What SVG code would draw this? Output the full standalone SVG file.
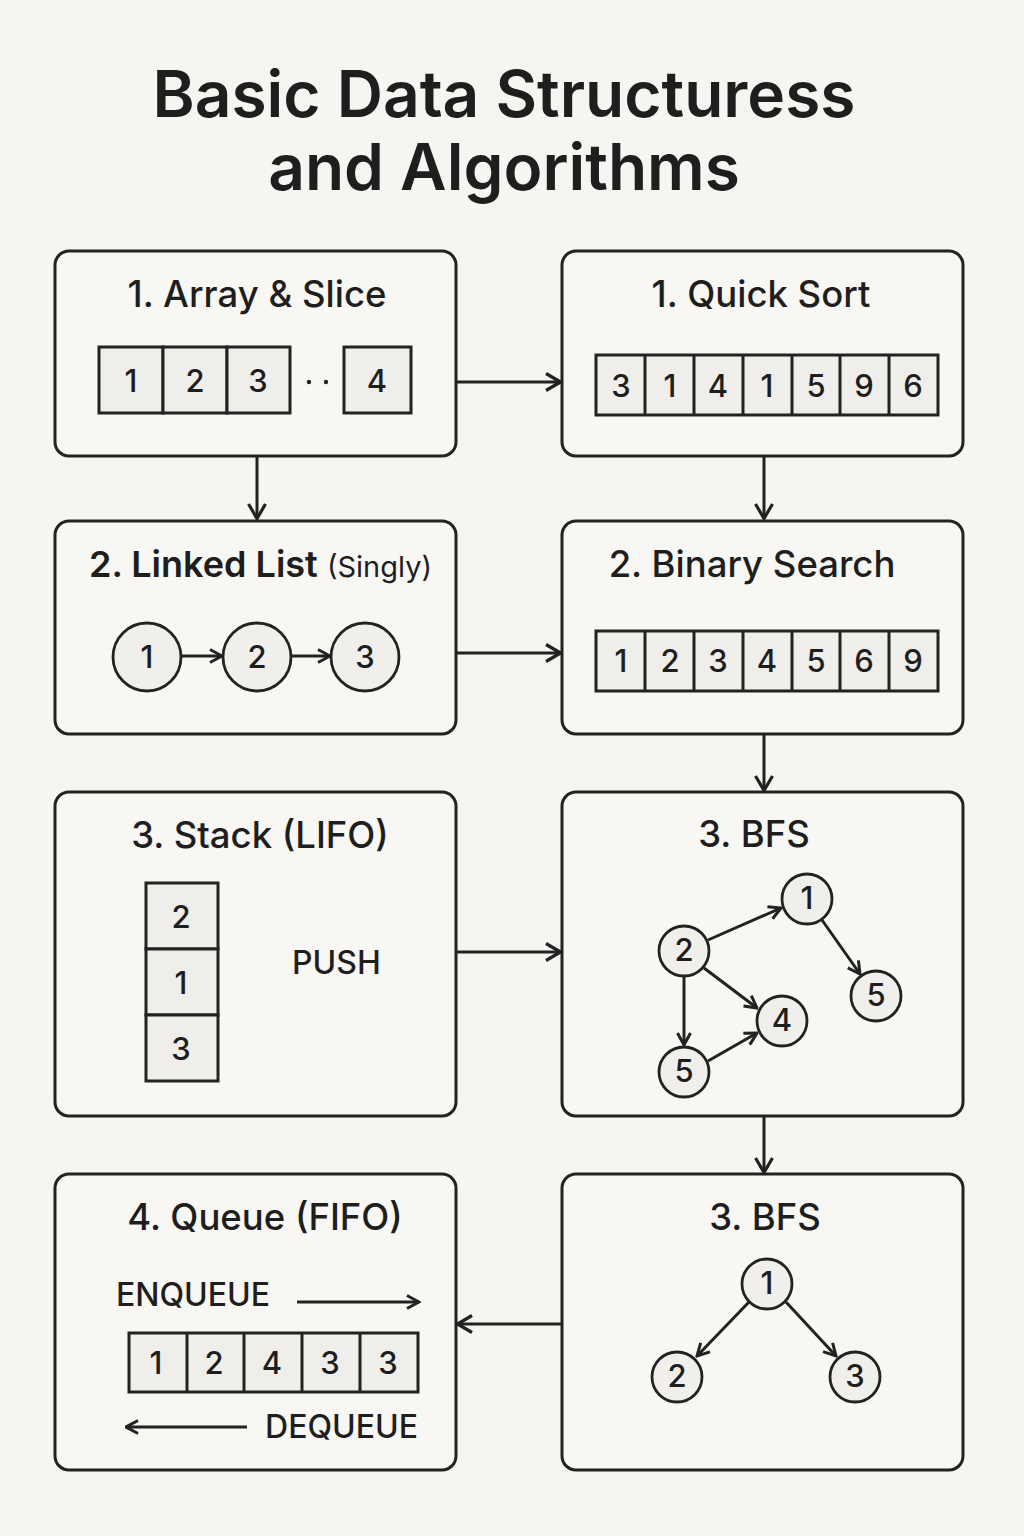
<svg xmlns="http://www.w3.org/2000/svg" width="1024" height="1536" viewBox="0 0 1024 1536">
<defs>
<style>
.bg{fill:#f6f5f2}
.node{fill:#f8f7f4;stroke:#222;stroke-width:3}
.cell{fill:#efeeeb;stroke:#222;stroke-width:3}
.circ{fill:#f0efec;stroke:#222;stroke-width:2.8}
.ttl{font-family:Inter,"Noto Sans","DejaVu Sans",sans-serif;font-weight:600;fill:#1e1e1e}
.nt{font-family:Inter,"Noto Sans","DejaVu Sans",sans-serif;font-weight:500;font-size:36.5px;fill:#1e1e1e;text-anchor:middle}
.num{font-family:Inter,"Noto Sans","DejaVu Sans",sans-serif;font-weight:500;font-size:31px;fill:#1e1e1e;text-anchor:middle}
.lbl{font-family:Inter,"Noto Sans","DejaVu Sans",sans-serif;font-weight:500;font-size:32px;fill:#1e1e1e}
.ln{fill:none;stroke:#222;stroke-width:3}
</style>
<marker id="arr" viewBox="0 0 18 20" refX="16.5" refY="10" markerWidth="18" markerHeight="20" markerUnits="userSpaceOnUse" orient="auto">
<path d="M1.5,1.5 L16,10 L1.5,18.5" fill="none" stroke="#222" stroke-width="3.2"/>
</marker>
<marker id="arrs" viewBox="0 0 15 16" refX="13.5" refY="8" markerWidth="15" markerHeight="16" markerUnits="userSpaceOnUse" orient="auto">
<path d="M1.5,1.5 L13.5,8 L1.5,14.5" fill="none" stroke="#222" stroke-width="3"/>
</marker>
</defs>
<rect class="bg" x="0" y="0" width="1024" height="1536"/>

<g id="title">
<text class="ttl" x="504" y="117" font-size="64" text-anchor="middle">Basic Data Structuress</text>
<text class="ttl" x="504" y="190" font-size="64" text-anchor="middle">and Algorithms</text>
</g>

<g id="connectors">
<line class="ln" x1="456" y1="382" x2="561" y2="382" marker-end="url(#arr)"/>
<line class="ln" x1="257" y1="456" x2="257" y2="519" marker-end="url(#arr)"/>
<line class="ln" x1="764" y1="456" x2="764" y2="519" marker-end="url(#arr)"/>
<line class="ln" x1="456" y1="653" x2="561" y2="653" marker-end="url(#arr)"/>
<line class="ln" x1="764" y1="734" x2="764" y2="791" marker-end="url(#arr)"/>
<line class="ln" x1="456" y1="952" x2="561" y2="952" marker-end="url(#arr)"/>
<line class="ln" x1="764" y1="1116" x2="764" y2="1173" marker-end="url(#arr)"/>
<line class="ln" x1="562" y1="1324" x2="457" y2="1324" marker-end="url(#arr)"/>
</g>

<g id="array-slice">
<rect class="node" x="55" y="251" width="401" height="205" rx="14"/>
<text class="nt" x="257" y="307">1. Array &amp; Slice</text>
<rect class="cell" x="99" y="347" width="64" height="66"/>
<rect class="cell" x="163" y="347" width="64" height="66"/>
<rect class="cell" x="227" y="347" width="63" height="66"/>
<rect class="cell" x="344" y="347" width="67" height="66"/>
<text class="num" x="131" y="392">1</text>
<text class="num" x="195" y="392">2</text>
<text class="num" x="258" y="392">3</text>
<text class="num" x="377" y="392">4</text>
<circle cx="309" cy="382" r="2.2" fill="#222"/>
<circle cx="326" cy="382" r="2.2" fill="#222"/>
</g>

<g id="quick-sort">
<rect class="node" x="562" y="251" width="401" height="205" rx="14"/>
<text class="nt" x="761" y="307">1. Quick Sort</text>
<rect class="cell" x="596" y="355" width="342" height="60"/>
<path class="ln" d="M645,355 V415 M694,355 V415 M743,355 V415 M792,355 V415 M840,355 V415 M889,355 V415"/>
<text class="num" x="621" y="397">3</text>
<text class="num" x="670" y="397">1</text>
<text class="num" x="718" y="397">4</text>
<text class="num" x="767" y="397">1</text>
<text class="num" x="816" y="397">5</text>
<text class="num" x="864" y="397">9</text>
<text class="num" x="913" y="397">6</text>
</g>

<g id="linked-list">
<rect class="node" x="55" y="521" width="401" height="213" rx="14"/>
<text class="ttl" x="89" y="577" font-size="36" font-weight="500">2. Linked List <tspan font-size="29" font-weight="400">(Singly)</tspan></text>
<circle class="circ" cx="147" cy="657" r="34"/>
<circle class="circ" cx="257" cy="657" r="34"/>
<circle class="circ" cx="365" cy="657" r="34"/>
<text class="num" x="147" y="668">1</text>
<text class="num" x="257" y="668">2</text>
<text class="num" x="365" y="668">3</text>
<line class="ln" x1="181" y1="656" x2="222" y2="656" marker-end="url(#arrs)"/>
<line class="ln" x1="291" y1="656" x2="330" y2="656" marker-end="url(#arrs)"/>
</g>

<g id="binary-search">
<rect class="node" x="562" y="521" width="401" height="213" rx="14"/>
<text class="nt" x="752" y="577">2. Binary Search</text>
<rect class="cell" x="596" y="631" width="342" height="60"/>
<path class="ln" d="M645,631 V691 M694,631 V691 M743,631 V691 M792,631 V691 M840,631 V691 M889,631 V691"/>
<text class="num" x="621" y="672">1</text>
<text class="num" x="670" y="672">2</text>
<text class="num" x="718" y="672">3</text>
<text class="num" x="767" y="672">4</text>
<text class="num" x="816" y="672">5</text>
<text class="num" x="864" y="672">6</text>
<text class="num" x="913" y="672">9</text>
</g>

<g id="stack">
<rect class="node" x="55" y="792" width="401" height="324" rx="14"/>
<text class="nt" x="260" y="848">3. Stack (LIFO)</text>
<rect class="cell" x="146" y="883" width="72" height="66"/>
<rect class="cell" x="146" y="949" width="72" height="66"/>
<rect class="cell" x="146" y="1015" width="72" height="66"/>
<text class="num" x="181" y="928">2</text>
<text class="num" x="181" y="994">1</text>
<text class="num" x="181" y="1060">3</text>
<text class="lbl" x="292" y="974">PUSH</text>
</g>

<g id="bfs-graph">
<rect class="node" x="562" y="792" width="401" height="324" rx="14"/>
<text class="nt" x="754" y="847">3. BFS</text>
<line class="ln" x1="708" y1="940" x2="781" y2="908" marker-end="url(#arrs)"/>
<line class="ln" x1="822" y1="920" x2="860" y2="974" marker-end="url(#arrs)"/>
<line class="ln" x1="704" y1="968" x2="757" y2="1008" marker-end="url(#arrs)"/>
<line class="ln" x1="684" y1="977" x2="684" y2="1045" marker-end="url(#arrs)"/>
<line class="ln" x1="708" y1="1061" x2="757" y2="1033" marker-end="url(#arrs)"/>
<circle class="circ" cx="807" cy="899" r="25"/>
<circle class="circ" cx="684" cy="951" r="25"/>
<circle class="circ" cx="876" cy="996" r="25"/>
<circle class="circ" cx="782" cy="1021" r="25"/>
<circle class="circ" cx="684" cy="1072" r="25"/>
<text class="num" x="807" y="909" font-size="29">1</text>
<text class="num" x="684" y="961" font-size="29">2</text>
<text class="num" x="876" y="1006" font-size="29">5</text>
<text class="num" x="782" y="1031" font-size="29">4</text>
<text class="num" x="684" y="1082" font-size="29">5</text>
</g>

<g id="queue">
<rect class="node" x="55" y="1174" width="401" height="296" rx="14"/>
<text class="nt" x="265" y="1230">4. Queue (FIFO)</text>
<text class="lbl" x="116" y="1306">ENQUEUE</text>
<line class="ln" x1="297" y1="1302" x2="419" y2="1302" marker-end="url(#arrs)"/>
<rect class="cell" x="129" y="1333" width="289" height="59"/>
<path class="ln" d="M187,1333 V1392 M244,1333 V1392 M302,1333 V1392 M360,1333 V1392"/>
<text class="num" x="156" y="1374">1</text>
<text class="num" x="214" y="1374">2</text>
<text class="num" x="272" y="1374">4</text>
<text class="num" x="330" y="1374">3</text>
<text class="num" x="388" y="1374">3</text>
<line class="ln" x1="247" y1="1427" x2="126" y2="1427" marker-end="url(#arrs)"/>
<text class="lbl" x="418" y="1438" text-anchor="end">DEQUEUE</text>
</g>

<g id="bfs-tree">
<rect class="node" x="562" y="1174" width="401" height="296" rx="14"/>
<text class="nt" x="765" y="1230">3. BFS</text>
<line class="ln" x1="749" y1="1302" x2="697" y2="1356" marker-end="url(#arrs)"/>
<line class="ln" x1="786" y1="1302" x2="836" y2="1356" marker-end="url(#arrs)"/>
<circle class="circ" cx="767" cy="1284" r="25"/>
<circle class="circ" cx="677" cy="1377" r="25"/>
<circle class="circ" cx="855" cy="1377" r="25"/>
<text class="num" x="767" y="1294" font-size="29">1</text>
<text class="num" x="677" y="1387" font-size="29">2</text>
<text class="num" x="855" y="1387" font-size="29">3</text>
</g>
</svg>
